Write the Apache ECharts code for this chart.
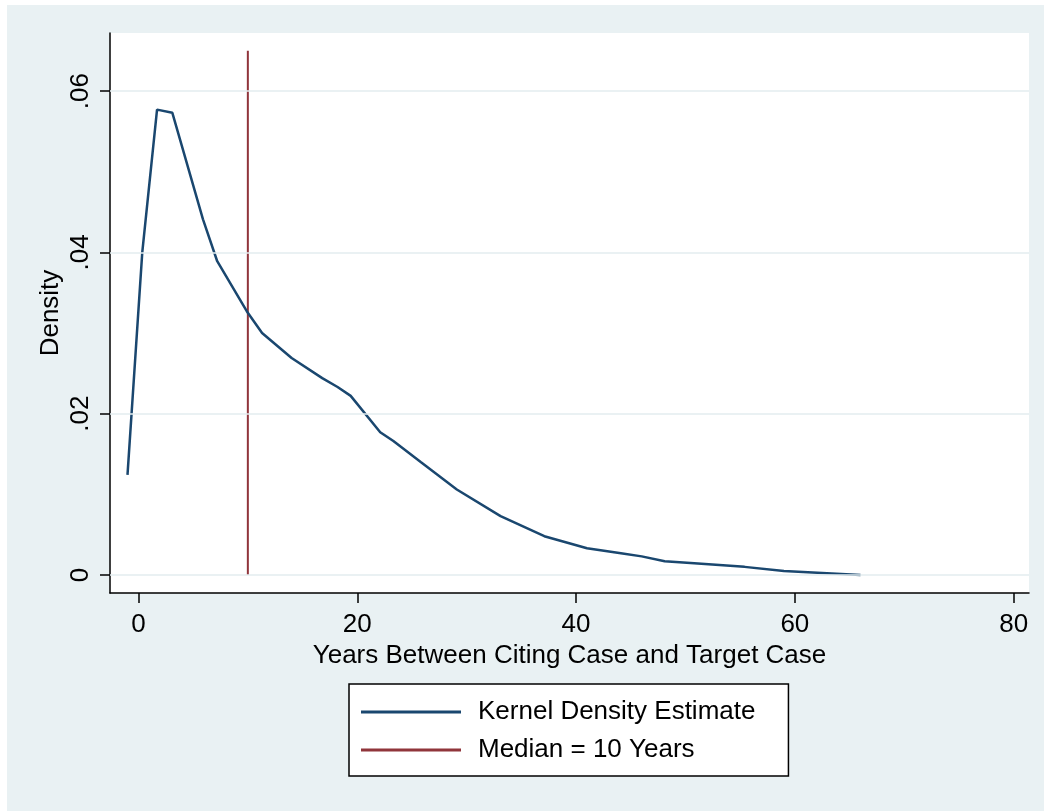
<!DOCTYPE html>
<html>
<head>
<meta charset="utf-8">
<script src="https://cdn.jsdelivr.net/npm/echarts@6/dist/echarts.min.js"></script>
<style>
  html, body { margin: 0; padding: 0; background: #fff; }
  #chart { width: 1044px; height: 811px; }
</style>
</head>
<body>
<div id="chart"></div>
<script>
// 曲线数据 (years, density)
const kdeYears = [-1.0, 0.35, 1.7, 3.1, 5.9, 7.2, 9.9, 11.3, 14.0, 16.8, 18.2, 19.4, 22.1, 23.3, 25.8, 29.1, 33.1, 37.1, 41.0, 44.1, 46.0, 48.1, 50.8, 55.4, 59.0, 66.0];
const kdeDensity = [0.0124, 0.0400, 0.0577, 0.0573, 0.0441, 0.0389, 0.0327, 0.0300, 0.0269, 0.0244, 0.0233, 0.0222, 0.0177, 0.0166, 0.0140, 0.0106, 0.0073, 0.0048, 0.0033, 0.0027, 0.0023, 0.0017, 0.00145, 0.0010, 0.0005, 0.0];

const medianYears = 10;
const medianTop = 0.065;

const xTicks = [0, 20, 40, 60, 80];
const yTicks = [0, 0.02, 0.04, 0.06];
const yTickLabels = ['0', '.02', '.04', '.06'];

const seriesNames = ['Kernel Density Estimate', 'Median = 10 Years'];
const xTitle = 'Years Between Citing Case and Target Case';
const yTitle = 'Density';

const navy = '#1a476f';
const maroon = '#90353b';
const font = 'Liberation Sans';

const chart = echarts.init(document.getElementById('chart'));

const option = {
    backgroundColor: '#fff',
    animation: false,
    textStyle: { fontFamily: font },
    graphic: [{
        type: 'rect',
        z: -10,
        shape: { x: 7, y: 5, width: 1037, height: 806 },
        style: { fill: '#e9f1f3' }
    }],
    grid: {
        left: 110, top: 33, right: 15, bottom: 218,
        show: true, backgroundColor: '#fff', borderWidth: 0
    },
    xAxis: {
        type: 'value',
        min: -2.6, max: 81.4,
        name: xTitle,
        nameLocation: 'middle',
        nameGap: 49,
        nameTextStyle: { fontSize: 26, color: '#000', fontFamily: font },
        axisLine: { show: true, onZero: false, lineStyle: { color: '#000', width: 1.5 } },
        axisTick: { show: true, length: 10, customValues: xTicks, lineStyle: { color: '#000', width: 1.5 } },
        axisLabel: { customValues: xTicks, fontSize: 26, color: '#000', margin: 19, fontFamily: font },
        splitLine: { show: false }
    },
    yAxis: {
        type: 'value',
        min: -0.00224, max: 0.0672,
        name: yTitle,
        nameLocation: 'middle',
        nameGap: 46,
        nameMoveOverlap: false,
        nameTextStyle: { fontSize: 26, color: '#000', fontFamily: font },
        axisLine: { show: true, onZero: false, lineStyle: { color: '#000', width: 1.5 } },
        axisTick: { show: true, length: 10, customValues: yTicks, lineStyle: { color: '#000', width: 1.5 } },
        axisLabel: {
            customValues: yTicks,
            rotate: 90,
            fontSize: 26, color: '#000', margin: 16, fontFamily: font,
            formatter: v => {
                const i = yTicks.findIndex(t => Math.abs(t - v) < 1e-9);
                return i >= 0 ? yTickLabels[i] : '';
            }
        },
        splitLine: { show: false }
    },
    legend: {
        left: 349, top: 684,
        orient: 'vertical',
        data: seriesNames,
        icon: 'rect',
        itemWidth: 100, itemHeight: 3,
        itemGap: 12,
        padding: [15, 33, 13, 12],
        backgroundColor: '#fff',
        borderColor: '#000', borderWidth: 1.5, borderRadius: 0,
        textStyle: { fontSize: 26, color: '#000', fontFamily: font, lineHeight: 26, padding: [0, 0, 0, 12] }
    },
    series: [
        {
            // 网格线
            type: 'line',
            name: 'grid',
            data: [],
            z: 1,
            silent: true,
            markLine: {
                silent: true,
                symbol: 'none',
                label: { show: false },
                lineStyle: { color: '#e3ecef', width: 1.5, type: 'solid' },
                data: yTicks.map(v => ({ yAxis: v }))
            }
        },
        {
            name: seriesNames[0],
            type: 'line',
            z: 3,
            data: kdeYears.map((x, i) => [x, kdeDensity[i]]),
            showSymbol: false,
            itemStyle: { color: navy },
            lineStyle: { color: navy, width: 2.5 }
        },
        {
            name: seriesNames[1],
            type: 'line',
            z: 2,
            data: [[medianYears, 0], [medianYears, medianTop]],
            showSymbol: false,
            itemStyle: { color: maroon },
            lineStyle: { color: maroon, width: 2 }
        }
    ]
};

chart.setOption(option);
</script>
</body>
</html>
